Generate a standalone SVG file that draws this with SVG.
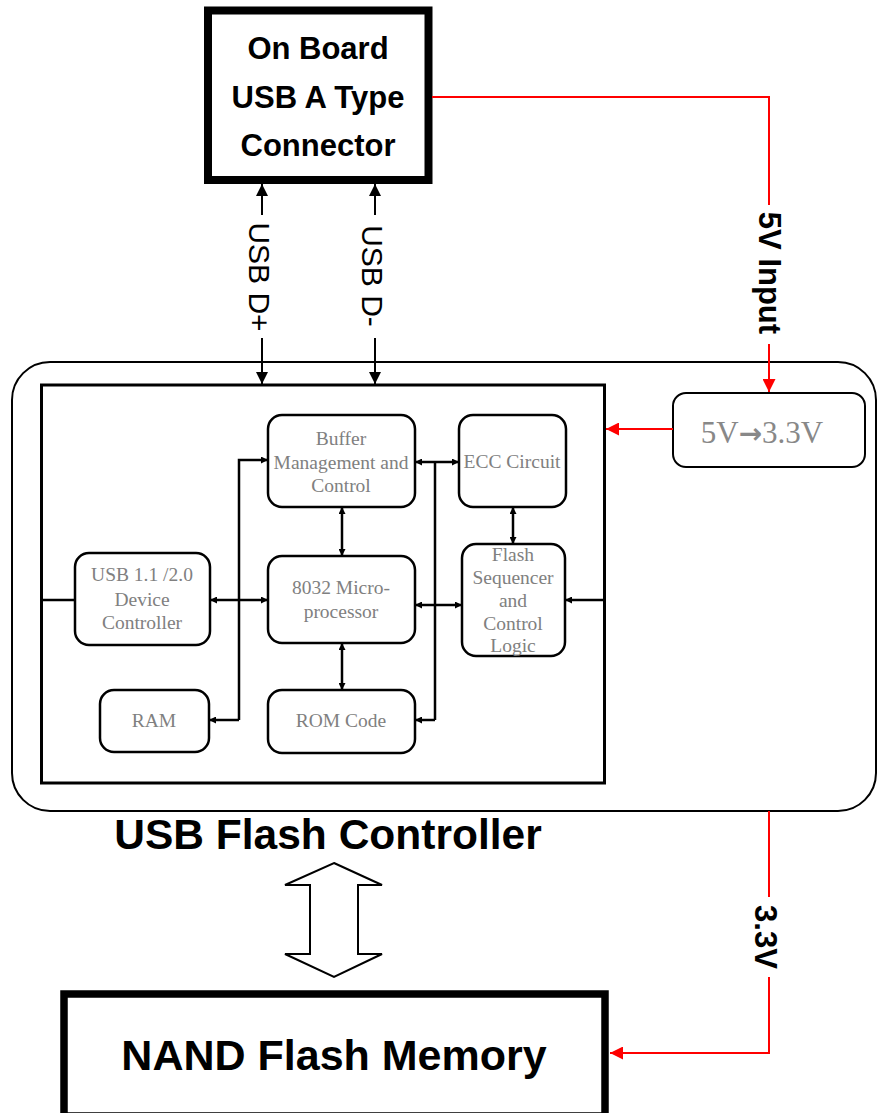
<svg xmlns="http://www.w3.org/2000/svg" width="877" height="1113" viewBox="0 0 877 1113">
<style>
.big{font-family:"Liberation Sans",Arial,sans-serif;font-weight:bold;fill:#000;text-anchor:middle}
.lbl{font-family:"Liberation Sans",Arial,sans-serif;fill:#000;text-anchor:middle}
.blk{fill:#fff;stroke:#000;stroke-width:2.5}
.bt{font-family:"Liberation Serif","Times New Roman",serif;font-size:19.5px;fill:#808080;text-anchor:middle}
.ln{fill:none;stroke:#000;stroke-width:2.5}
.red{fill:none;stroke:#ff0000;stroke-width:2}
.usb{fill:none;stroke:#000;stroke-width:2}
</style>
<defs>
<marker id="a" viewBox="0 0 10 10" refX="10" refY="5" markerWidth="8" markerHeight="7" markerUnits="userSpaceOnUse" orient="auto-start-reverse"><path d="M0,0 L10,5 L0,10 Z" fill="#000"/></marker>
<marker id="b" viewBox="0 0 10 10" refX="10" refY="5" markerWidth="16" markerHeight="12" markerUnits="userSpaceOnUse" orient="auto-start-reverse"><path d="M0,0 L10,5 L0,10 Z" fill="#000"/></marker>
<marker id="r" viewBox="0 0 10 10" refX="10" refY="5" markerWidth="16" markerHeight="13" markerUnits="userSpaceOnUse" orient="auto"><path d="M0,0 L10,5 L0,10 Z" fill="#ff0000"/></marker>
</defs>
<rect width="877" height="1113" fill="#fff"/>

<g id="controller">
<rect x="12" y="362" width="864" height="449" rx="38" fill="none" stroke="#000" stroke-width="2"/>
<rect x="41.5" y="385" width="563" height="398" fill="none" stroke="#000" stroke-width="3"/>
<text class="big" x="328" y="849" font-size="42.5">USB Flash Controller</text>
</g>

<g id="usb-connector">
<rect x="208" y="10.5" width="220.5" height="169.5" fill="#fff" stroke="#000" stroke-width="8"/>
<text class="big" x="318" y="59" font-size="31">On Board</text>
<text class="big" x="318" y="108" font-size="31">USB A Type</text>
<text class="big" x="318" y="156" font-size="31">Connector</text>
</g>

<g id="buffer">
<rect class="blk" x="268" y="415" width="147" height="92" rx="14"/>
<text class="bt" x="341" y="445">Buffer</text>
<text class="bt" x="341" y="469">Management and</text>
<text class="bt" x="341" y="492">Control</text>
</g>
<g id="ecc">
<rect class="blk" x="459" y="415" width="107" height="92" rx="14"/>
<text class="bt" x="512" y="468">ECC Circuit</text>
</g>
<g id="usbdev">
<rect class="blk" x="75" y="553" width="135" height="92" rx="14"/>
<text class="bt" x="142" y="581">USB 1.1 /2.0</text>
<text class="bt" x="142" y="606">Device</text>
<text class="bt" x="142" y="629">Controller</text>
</g>
<g id="cpu">
<rect class="blk" x="268" y="556" width="147" height="87" rx="14"/>
<text class="bt" x="341" y="594">8032 Micro-</text>
<text class="bt" x="341" y="618">processor</text>
</g>
<g id="flashseq">
<rect class="blk" x="462" y="544" width="103" height="112" rx="14"/>
<text class="bt" x="513" y="561">Flash</text>
<text class="bt" x="513" y="584">Sequencer</text>
<text class="bt" x="513" y="607">and</text>
<text class="bt" x="513" y="630">Control</text>
<text class="bt" x="513" y="652">Logic</text>
</g>
<g id="ram">
<rect class="blk" x="100" y="690" width="109" height="62" rx="14"/>
<text class="bt" x="154" y="727">RAM</text>
</g>
<g id="rom">
<rect class="blk" x="268" y="690" width="147" height="63" rx="14"/>
<text class="bt" x="341" y="727">ROM Code</text>
</g>

<g id="regulator">
<rect x="673" y="393" width="192" height="74" rx="13" fill="#fff" stroke="#000" stroke-width="2"/>
<text x="762" y="443" font-family="Liberation Serif,'Times New Roman',serif" font-size="31" fill="#888" text-anchor="middle">5V<tspan font-family="DejaVu Sans,sans-serif" font-weight="bold" font-size="28">→</tspan>3.3V</text>
</g>

<g id="nand">
<rect x="64" y="994" width="541" height="122" fill="#fff" stroke="#000" stroke-width="7.5"/>
<text class="big" x="334" y="1070" font-size="43">NAND Flash Memory</text>
</g>

<g id="connectors">
<!-- USB D+ / D- -->
<line class="usb" x1="262" y1="215" x2="262" y2="184" marker-end="url(#b)"/>
<line class="usb" x1="262" y1="338" x2="262" y2="384" marker-end="url(#b)"/>
<line class="usb" x1="375" y1="215" x2="375" y2="184" marker-end="url(#b)"/>
<line class="usb" x1="375" y1="338" x2="375" y2="384" marker-end="url(#b)"/>
<text class="lbl" font-size="30" transform="translate(260,277) rotate(90)" x="0" y="11">USB D+</text>
<text class="lbl" font-size="30" transform="translate(373,276) rotate(90)" x="0" y="11">USB D-</text>

<!-- red power -->
<polyline class="red" points="432,97 769,97 769,205"/>
<line class="red" x1="769" y1="344" x2="769" y2="392" marker-end="url(#r)"/>
<text class="big" font-size="31" transform="translate(770,273) rotate(90)" x="0" y="11">5V Input</text>
<line class="red" x1="673" y1="429" x2="606" y2="429" marker-end="url(#r)"/>
<line class="red" x1="769" y1="811" x2="769" y2="897"/>
<polyline class="red" points="769,977 769,1053 610,1053" marker-end="url(#r)"/>
<text class="big" font-size="31" transform="translate(766,937) rotate(90)" x="0" y="11">3.3V</text>

<!-- inner -->
<line class="ln" x1="41" y1="600" x2="75" y2="600"/>
<line class="ln" x1="210" y1="600" x2="268" y2="600" marker-start="url(#a)" marker-end="url(#a)"/>
<polyline class="ln" points="239,720 239,460 268,460" marker-end="url(#a)"/>
<line class="ln" x1="239" y1="720" x2="209" y2="720" marker-end="url(#a)"/>
<line class="ln" x1="342" y1="507" x2="342" y2="556" marker-start="url(#a)" marker-end="url(#a)"/>
<line class="ln" x1="342" y1="643" x2="342" y2="690" marker-start="url(#a)" marker-end="url(#a)"/>
<line class="ln" x1="415" y1="462" x2="459" y2="462" marker-start="url(#a)" marker-end="url(#a)"/>
<line class="ln" x1="435" y1="462" x2="435" y2="720"/>
<line class="ln" x1="435" y1="720" x2="415" y2="720" marker-end="url(#a)"/>
<line class="ln" x1="415" y1="605" x2="462" y2="605" marker-start="url(#a)" marker-end="url(#a)"/>
<line class="ln" x1="513" y1="507" x2="513" y2="544" marker-start="url(#a)" marker-end="url(#a)"/>
<line class="ln" x1="604" y1="600" x2="565" y2="600" marker-end="url(#a)"/>

<!-- hollow double arrow -->
<polygon points="334,863 382,885 358,885 358,954 382,954 334,977 285,954 310,954 310,885 285,885" fill="#fff" stroke="#000" stroke-width="2"/>
</g>
</svg>
